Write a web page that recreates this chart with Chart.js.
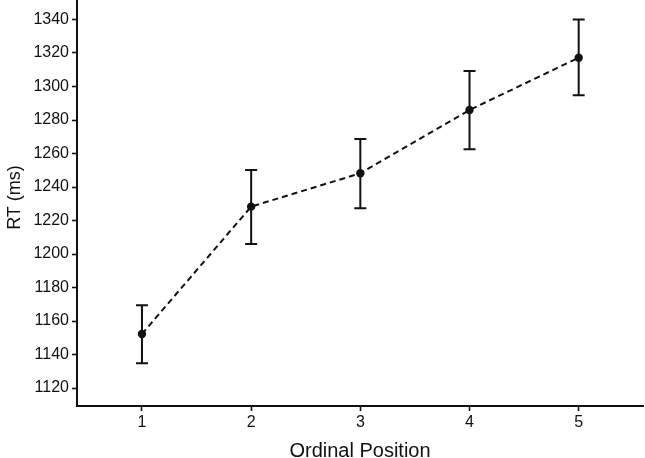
<!DOCTYPE html>
<html>
<head>
<meta charset="utf-8">
<script src="https://cdn.jsdelivr.net/npm/chart.js@4/dist/chart.umd.min.js"></script>
<style>
  html, body { margin: 0; padding: 0; background: #ffffff; overflow: hidden; }
  #wrap { width: 645px; height: 458px; position: relative; overflow: hidden; }
  #c { position: absolute; left: 0; top: -11px; }
</style>
</head>
<body>
<div id="wrap"><canvas id="c" width="645" height="469"></canvas></div>
<script>
const positions = [1, 2, 3, 4, 5];
const meanRT = [1152.3, 1228.3, 1248.2, 1286.0, 1317.2];
const upperRT = [1169.5, 1250.1, 1268.6, 1309.2, 1340.0];
const lowerRT = [1134.8, 1206.0, 1227.3, 1262.5, 1294.8];
const yTickValues = [1120, 1140, 1160, 1180, 1200, 1220, 1240, 1260, 1280, 1300, 1320, 1340];
const xTickValues = [1, 2, 3, 4, 5];
const xTitle = 'Ordinal Position';
const yTitle = 'RT (ms)';

const FONT = "'Liberation Sans', Arial, Helvetica, sans-serif";
const INK = '#111111';

const errorBarPlugin = {
  id: 'errorBars',
  beforeDatasetsDraw(chart) {
    const { ctx, scales: { x, y } } = chart;
    ctx.save();
    ctx.strokeStyle = INK;
    ctx.lineWidth = 2;
    const half = 6;
    positions.forEach((p, i) => {
      const px = x.getPixelForValue(p);
      const pt = y.getPixelForValue(upperRT[i]);
      const pb = y.getPixelForValue(lowerRT[i]);
      ctx.beginPath();
      ctx.moveTo(px, pt); ctx.lineTo(px, pb);
      ctx.moveTo(px - half, pt); ctx.lineTo(px + half, pt);
      ctx.moveTo(px - half, pb); ctx.lineTo(px + half, pb);
      ctx.stroke();
    });
    ctx.restore();
  }
};

new Chart(document.getElementById('c'), {
  type: 'line',
  data: {
    datasets: [{
      data: positions.map((p, i) => ({ x: p, y: meanRT[i] })),
      borderColor: INK,
      backgroundColor: INK,
      borderWidth: 2,
      borderDash: [6, 4],
      pointRadius: 4.2,
      pointBackgroundColor: INK,
      pointBorderWidth: 0,
      tension: 0,
      fill: false
    }]
  },
  options: {
    responsive: false,
    animation: false,
    devicePixelRatio: 1,
    layout: { autoPadding: false, padding: { top: 0, right: 2, bottom: 0, left: 0 } },
    plugins: { legend: { display: false }, tooltip: { enabled: false } },
    scales: {
      x: {
        type: 'linear',
        min: 0.405,
        max: 5.589,
        afterBuildTicks(scale) { scale.ticks = xTickValues.map(v => ({ value: v })); },
        afterFit(scale) { scale.height = 52; scale.paddingLeft = 0; scale.paddingRight = 0; },
        grid: { drawOnChartArea: false, drawTicks: true, tickLength: 5, tickColor: INK, tickWidth: 1.6 },
        border: { display: true, color: INK, width: 2 },
        ticks: { color: INK, font: { family: FONT, size: 16 }, padding: 2, maxRotation: 0,
                 callback: v => String(v) },
        title: { display: true, text: xTitle, color: INK, font: { family: FONT, size: 20, lineHeight: 0.7 },
                 padding: { top: 0, bottom: 0 } }
      },
      y: {
        type: 'linear',
        min: 1109.3,
        max: 1358.2,
        afterBuildTicks(scale) { scale.ticks = yTickValues.map(v => ({ value: v })); },
        afterFit(scale) { scale.width = 77; scale.paddingTop = 0; scale.paddingBottom = 0; },
        grid: { drawOnChartArea: false, drawTicks: true, tickLength: 5, tickColor: INK, tickWidth: 1.6 },
        border: { display: true, color: INK, width: 2 },
        ticks: { color: INK, font: { family: FONT, size: 16 }, padding: 3,
                 callback: v => String(v) },
        title: { display: true, text: yTitle, color: INK, font: { family: FONT, size: 18, lineHeight: 1.2 },
                 padding: { top: 4, bottom: 0 } }
      }
    }
  },
  plugins: [errorBarPlugin]
});
</script>
</body>
</html>
